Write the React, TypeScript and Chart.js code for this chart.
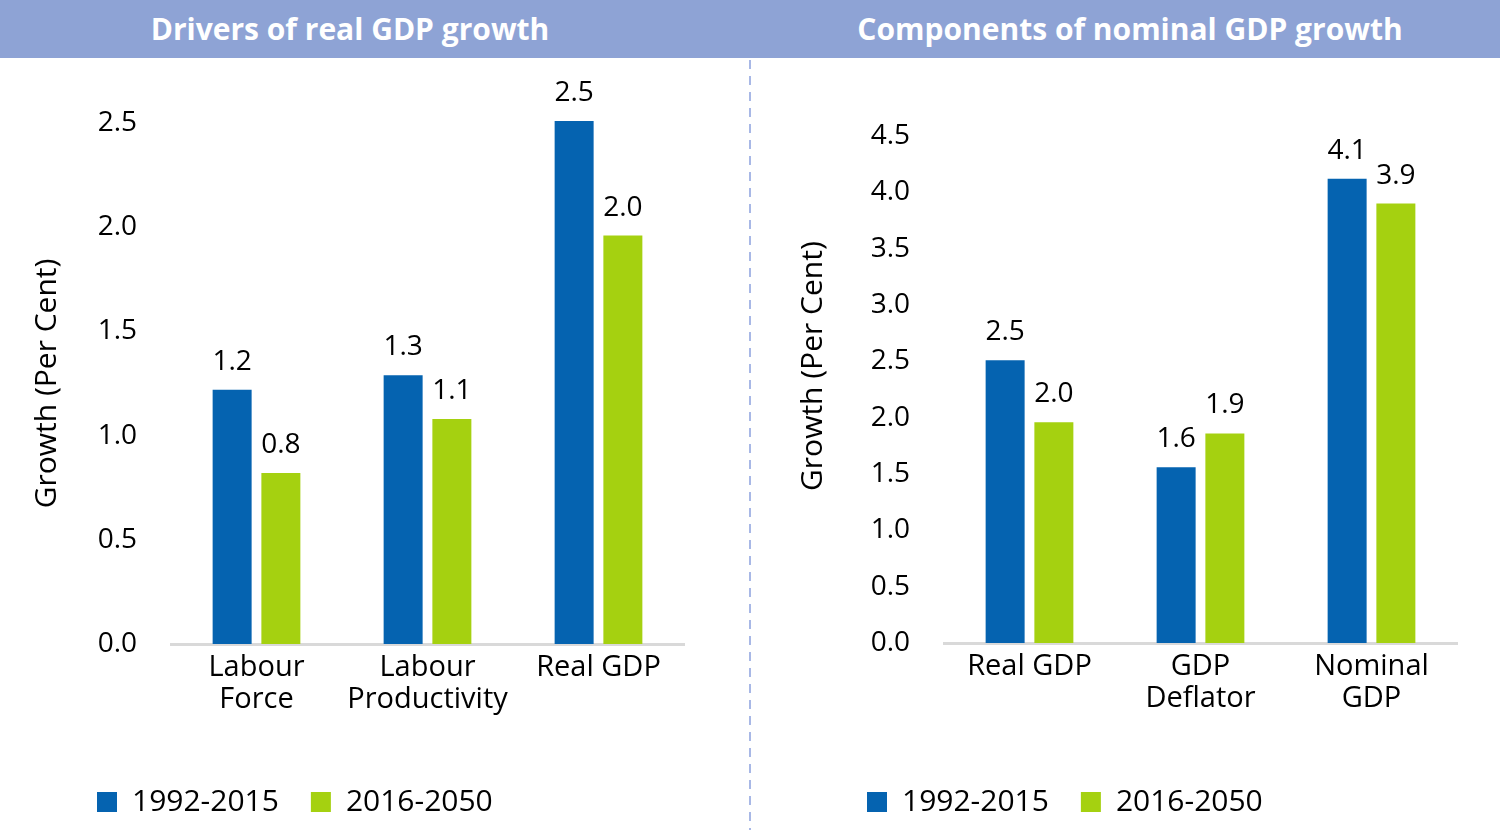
import { useEffect, useRef } from 'react';
import { Chart, registerables } from 'chart.js';
import type { Plugin } from 'chart.js';

Chart.register(...registerables);

const SERIES = ['1992-2015', '2016-2050'];
const COLORS = ['#0563B0', '#A5D110'];
const Y_TITLE = 'Growth (Per Cent)';

// left panel: drivers of real GDP growth
const realCategories = [['Labour', 'Force'], ['Labour', 'Productivity'], ['Real GDP']];
const realEarly = [1.22, 1.29, 2.51];
const realLate = [0.82, 1.08, 1.96];

// right panel: components of nominal GDP growth
const nominalCategories = [['Real GDP'], ['GDP', 'Deflator'], ['Nominal', 'GDP']];
const nominalEarly = [2.51, 1.56, 4.12];
const nominalLate = [1.96, 1.86, 3.9];

const FONT = "'Open Sans', 'Noto Sans', sans-serif";

interface Layout {
  padLeft: number;
  padRight: number;
  padTop: number;
  yWidth: number;
  xHeight: number;
  legendShift: number;
  titleLift: number; // leading spaces to push the rotated title upward
}

interface PanelProps {
  categories: string[][];
  early: number[];
  late: number[];
  yMax: number;
  layout: Layout;
  left: number;
}

const valueLabels: Plugin<'bar'> = {
  id: 'valueLabels',
  afterDatasetsDraw(chart) {
    const ctx = chart.ctx;
    ctx.save();
    ctx.font = `28px ${FONT}`;
    ctx.fillStyle = '#000';
    ctx.textAlign = 'center';
    ctx.textBaseline = 'alphabetic';
    chart.data.datasets.forEach((ds, i) => {
      const meta = chart.getDatasetMeta(i);
      meta.data.forEach((bar, j) => {
        const v = ds.data[j] as number;
        ctx.fillText(v.toFixed(1), bar.x, bar.y - 20);
      });
    });
    ctx.restore();
  },
};

function Panel({ categories, early, late, yMax, layout, left }: PanelProps) {
  const chartRef = useRef<HTMLCanvasElement>(null);
  const chartInstance = useRef<Chart | null>(null);

  useEffect(() => {
    if (!chartRef.current) return;
    if (chartInstance.current) chartInstance.current.destroy();

    // nudge the legend to where the original puts it
    const legendShift: Plugin<'bar'> = {
      id: 'legendShift',
      afterLayout(chart) {
        if (chart.legend) {
          chart.legend.left += layout.legendShift;
          chart.legend.right += layout.legendShift;
        }
      },
    };

    chartInstance.current = new Chart(chartRef.current, {
      type: 'bar',
      data: {
        labels: categories,
        datasets: [
          {
            label: SERIES[0],
            data: early,
            backgroundColor: COLORS[0],
            categoryPercentage: 0.57,
            barPercentage: 0.8,
            clip: false,
          },
          {
            label: SERIES[1],
            data: late,
            backgroundColor: COLORS[1],
            categoryPercentage: 0.57,
            barPercentage: 0.8,
            clip: false,
          },
        ],
      },
      options: {
        responsive: true,
        maintainAspectRatio: false,
        animation: false,
        layout: {
          padding: { left: layout.padLeft, right: layout.padRight, top: layout.padTop, bottom: 3 },
        },
        plugins: {
          legend: {
            position: 'bottom',
            align: 'start',
            labels: {
              boxWidth: 20,
              boxHeight: 20,
              padding: 32,
              color: '#000',
              font: { family: FONT, size: 30 },
            },
          },
          tooltip: { enabled: false },
        },
        scales: {
          x: {
            grid: { display: false, drawTicks: false },
            border: { display: true, color: '#D9D9D9', width: 3 },
            ticks: {
              color: '#000',
              padding: 8,
              maxRotation: 0,
              autoSkip: false,
              font: { family: FONT, size: 29, lineHeight: 1.1 },
            },
            afterFit: (scale) => {
              scale.height = layout.xHeight;
            },
          },
          y: {
            min: 0,
            max: yMax,
            grid: { display: false, drawTicks: false },
            border: { display: false },
            ticks: {
              stepSize: 0.5,
              color: '#000',
              padding: 34,
              font: { family: FONT, size: 28 },
              callback: (v) => Number(v).toFixed(1),
            },
            title: {
              display: true,
              text: ' '.repeat(layout.titleLift) + Y_TITLE,
              color: '#000',
              padding: 0,
              font: { family: FONT, size: 30 },
            },
            afterFit: (scale) => {
              scale.width = layout.yWidth;
            },
          },
        },
      },
      plugins: [valueLabels, legendShift],
    });

    return () => {
      if (chartInstance.current) {
        chartInstance.current.destroy();
        chartInstance.current = null;
      }
    };
  }, [categories, early, late, yMax, layout]);

  return (
    <div style={{ position: 'absolute', left, top: 58, width: 750, height: 772 }}>
      <canvas ref={chartRef} />
    </div>
  );
}

const leftLayout: Layout = {
  padLeft: 29, padRight: 66, padTop: 65, yWidth: 142, xHeight: 111, legendShift: 36, titleLift: 0,
};
const rightLayout: Layout = {
  padLeft: 45, padRight: 43, padTop: 78, yWidth: 149, xHeight: 112, legendShift: 40, titleLift: 6,
};

const headerText: React.CSSProperties = {
  position: 'absolute',
  top: 0,
  height: 58,
  lineHeight: '58px',
  textAlign: 'center',
  color: '#fff',
  fontWeight: 700,
  fontSize: 30,
  fontFamily: FONT,
};

export default function App() {
  return (
    <div
      style={{
        position: 'fixed',
        left: 0,
        top: 0,
        width: 1500,
        height: 830,
        background: '#fff',
        overflow: 'hidden',
      }}
    >
      <div style={{ position: 'absolute', left: 0, top: 0, width: 1500, height: 58, background: '#8EA3D5' }} />
      <div style={{ ...headerText, left: 0, width: 700 }}>Drivers of real GDP growth</div>
      <div style={{ ...headerText, left: 760, width: 740 }}>Components of nominal GDP growth</div>
      <div
        style={{
          position: 'absolute',
          left: 749,
          top: 60,
          width: 2,
          height: 770,
          background: 'repeating-linear-gradient(to bottom, #A8B8E6 0px, #A8B8E6 9px, transparent 9px, transparent 16px)',
        }}
      />
      <Panel categories={realCategories} early={realEarly} late={realLate} yMax={2.5} layout={leftLayout} left={0} />
      <Panel
        categories={nominalCategories}
        early={nominalEarly}
        late={nominalLate}
        yMax={4.5}
        layout={rightLayout}
        left={750}
      />
    </div>
  );
}
